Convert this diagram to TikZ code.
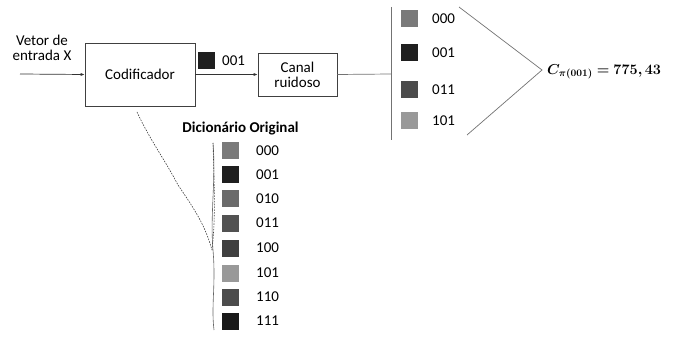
\documentclass[tikz,border=0pt]{standalone}
\usepackage[no-math]{fontspec}
\setmainfont{Carlito}
\usepackage{amsmath,bm}
\usetikzlibrary{arrows.meta}
\begin{document}
\begin{tikzpicture}[x=1pt,y=-1pt,
  every node/.style={font=\fontsize{15}{17}\selectfont, text=black},
  blk/.style={draw=black!75, line width=0.6pt},
  sq/.style={minimum size=17pt, inner sep=0pt, draw=none},
  lab/.style={anchor=west, inner sep=0pt},
  conn/.style={draw=black!80, line width=0.7pt},
  arr/.style={conn, -{Latex[length=4pt,width=3pt]}},
  gline/.style={draw=black!55, line width=0.7pt}]
\useasboundingbox (0,0) rectangle (693,339);
% input
\node[align=center, inner sep=0pt] (in) at (42,48) {Vetor de\\[-2pt]entrada X};
\coordinate (instart) at (20,74);
\node[blk, minimum width=110pt, minimum height=63pt, inner sep=0pt] (cod) at (140,74.5) {Codificador};
\draw[arr] (instart) -- (cod.west);
\node[sq, fill=black!88] (s001) at (206.5,60.5) {};
\node[lab] (t001) at (222,60.5) {001};
\node[blk, minimum width=79pt, minimum height=43pt, align=center, inner sep=0pt] (can) at (297.5,74.5) {Canal\\[-2pt]ruidoso};
\draw[arr] (cod.east) -- (can.west);
% vertical bar
\coordinate (vt) at (391,7);
\coordinate (vb) at (391,140);
\coordinate (vm) at (391,74);
\draw[gline] (vt) -- (vb);
\draw[gline] (can.east) -- (vm);
% received list
\node[sq, fill=black!52] (r1) at (409.5,19) {};
\node[sq, fill=black!88] (r2) at (409.5,53) {};
\node[sq, fill=black!70] (r3) at (409.5,90) {};
\node[sq, fill=black!40] (r4) at (409.5,121) {};
\node[lab] (rt1) at (432,19) {000};
\node[lab] (rt2) at (432,53) {001};
\node[lab] (rt3) at (432,90) {011};
\node[lab] (rt4) at (432,121) {101};
% brace-like lines
\coordinate (ta) at (459,7);
\coordinate (tm) at (542,70);
\coordinate (tb) at (467,135);
\draw[gline] (ta) -- (tm) -- (tb);
\node[anchor=west, inner sep=0pt, font=\fontsize{14.5}{17}\selectfont] (res) at (547,72) {$\bm{C_{\pi(001)} = 775,43}$};
% dictionary
\node[font=\fontsize{15}{17}\selectfont\bfseries, inner sep=0pt] (dt) at (240.5,129) {Dicionário Original};
\foreach \y/\c/\t [count=\i] in {151/52/000,175/88/001,199/58/010,223/68/011,248/75/100,273/40/101,297/70/110,321/90/111}{
  \node[sq, fill=black!\c] (d\i) at (230.5,\y) {};
  \node[lab] (dl\i) at (256,\y) {\t};
}
% hand-drawn lines
\coordinate (w0) at (213,143);
\coordinate (w1) at (214,330);
\draw[draw=black!60, line width=0.6pt] (w0) .. controls (216,180) and (210,215) .. (213,250) .. controls (216,285) and (211,305) .. (w1);
\coordinate (c0) at (137,112);
\coordinate (c1) at (212,250);
\draw[draw=black!75, line width=0.6pt, dash pattern=on 1.6pt off 1.2pt] (c0) .. controls (150,140) and (165,160) .. (178,185) .. controls (195,210) and (205,225) .. (c1);
\draw[draw=black!75, line width=0.6pt, dash pattern=on 1.6pt off 1.2pt] (c1) .. controls (216,215) and (214,180) .. (w0);
\end{tikzpicture}
\end{document}
